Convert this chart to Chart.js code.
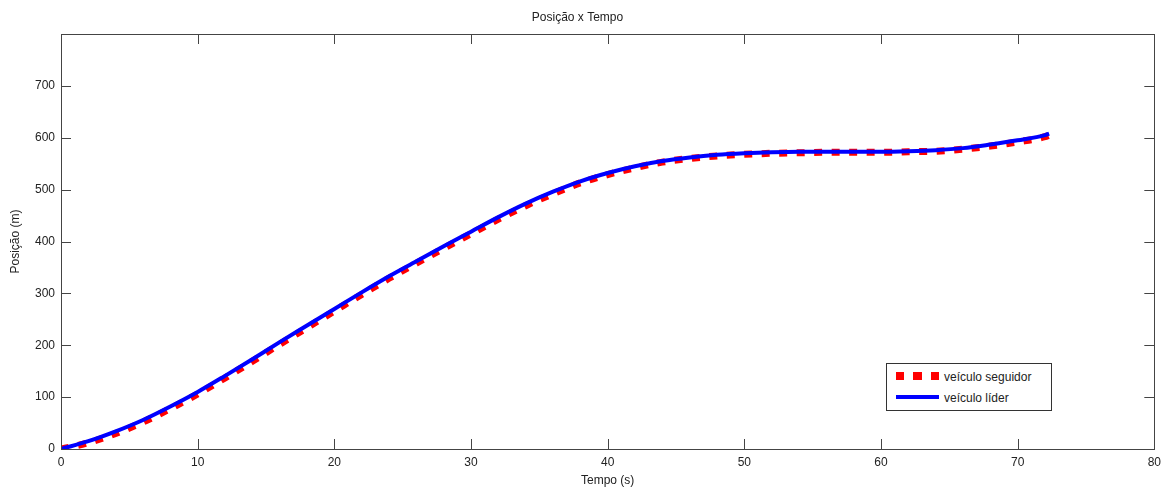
<!DOCTYPE html>
<html>
<head>
<meta charset="utf-8">
<title>Posição x Tempo</title>
<script src="https://cdn.jsdelivr.net/npm/chart.js@4/dist/chart.umd.min.js"></script>
<style>
  html, body { margin: 0; padding: 0; background: #fff; }
  #wrap { position: relative; width: 1167px; height: 490px; }
  #legend {
    position: absolute; left: 886px; top: 363px; width: 164px; height: 46px;
    border: 1px solid #333; background: #fff;
    font: 12px "Liberation Sans", Arial, sans-serif; color: #222;
  }
  #legend .sample { position: absolute; left: 9px; width: 43px; }
  #legend .red { top: 8px; height: 8px;
    background: repeating-linear-gradient(to right, #ff0000 0 8px, transparent 8px 17.5px); }
  #legend .blue { top: 31px; height: 4px; background: #0000ff; }
  #legend .label { position: absolute; left: 57px; line-height: 14px; }
</style>
</head>
<body>
<div id="wrap">
  <canvas id="chart" width="1167" height="490"></canvas>
  <div id="legend">
    <div class="sample red"></div><div class="label" style="top:6px">veículo seguidor</div>
    <div class="sample blue"></div><div class="label" style="top:27px">veículo líder</div>
  </div>
</div>
<script>
(function() {

    'use strict';

    // tempo (s)
    var tempo = [0, 2, 4, 6, 8, 10, 12, 14, 16, 18, 20, 22, 24, 26, 28, 30, 32, 34, 36,
                 38, 40, 42, 44, 46, 48, 50, 52, 54, 56, 58, 60, 62, 64, 66, 68, 70, 72, 72.3];

    // posição do veículo líder (m)
    var lider = [0, 15, 34, 56, 82, 110, 141, 173, 206, 238, 270, 302, 333, 362, 391, 419, 447, 473, 496,
                 516, 532, 545, 555, 562, 567, 570, 572, 573, 573, 573, 573, 574, 576, 580, 587, 595, 605, 608];

    // posição do veículo seguidor (m)
    var seguidor = [0, 12, 30, 52, 78, 106, 137, 169, 202, 234, 266, 298, 329, 358, 387, 415, 443, 469, 492,
                    513, 529, 542, 553, 560, 565, 568, 570, 571, 572, 572, 572, 573, 574, 578, 584, 592, 602, 605];

    var xTicks = [0, 10, 20, 30, 40, 50, 60, 70, 80];
    var yTicks = [0, 100, 200, 300, 400, 500, 600, 700, 800];

    var axisColor = '#444';
    var font = { family: '"Liberation Sans", Arial, sans-serif', size: 12 };

    function points(ys) {
        var out = [];
        for (var i = 0; i < tempo.length; i++) {
            out.push({ x: tempo[i], y: ys[i] });
        }
        return out;
    }

    // MATLAB style box with inward ticks
    var frame = {
        id: 'frame',
        afterDatasetsDraw: function(chart) {
            var ctx = chart.ctx,
                a = chart.chartArea,
                xs = chart.scales.x,
                ys = chart.scales.y,
                len = 10;

            ctx.save();
            ctx.strokeStyle = axisColor;
            ctx.lineWidth = 1;
            ctx.beginPath();
            xTicks.forEach(function(t) {
                var px = Math.round(xs.getPixelForValue(t)) + 0.5;
                ctx.moveTo(px, a.bottom); ctx.lineTo(px, a.bottom - len);
                ctx.moveTo(px, a.top); ctx.lineTo(px, a.top + len);
            });
            yTicks.forEach(function(t) {
                var py = Math.round(ys.getPixelForValue(t)) + 0.5;
                ctx.moveTo(a.left, py); ctx.lineTo(a.left + len, py);
                ctx.moveTo(a.right, py); ctx.lineTo(a.right - len, py);
            });
            ctx.stroke();
            ctx.strokeRect(Math.round(a.left) + 0.5, Math.round(a.top) + 0.5,
                Math.round(a.right - a.left), Math.round(a.bottom - a.top));
            ctx.restore();
        }
    };

    new Chart(document.getElementById('chart'), {
        type: 'line',
        data: {
            datasets: [{
                label: 'veículo seguidor',
                data: points(seguidor),
                borderColor: '#ff0000',
                borderWidth: 7,
                borderDash: [8, 9.5],
                pointRadius: 0,
                cubicInterpolationMode: 'monotone',
                fill: false,
                order: 2
            }, {
                label: 'veículo líder',
                data: points(lider),
                borderColor: '#0000ff',
                borderWidth: 4,
                pointRadius: 0,
                cubicInterpolationMode: 'monotone',
                fill: false,
                order: 1
            }]
        },
        options: {
            responsive: false,
            animation: false,
            layout: { padding: { left: 0, right: 12, top: 0, bottom: 0 } },
            plugins: {
                legend: { display: false },
                tooltip: { enabled: false },
                title: {
                    display: true,
                    text: 'Posição x Tempo',
                    color: '#222',
                    font: { family: font.family, size: 12, weight: 'normal' },
                    padding: { top: 10, bottom: 9.6 }
                }
            },
            scales: {
                x: {
                    type: 'linear',
                    min: 0,
                    max: 80,
                    afterBuildTicks: function(s) { s.ticks = xTicks.map(function(v) { return { value: v }; }); },
                    afterFit: function(s) { s.height = 41; },
                    grid: { display: false, drawTicks: false },
                    border: { display: false },
                    ticks: { color: '#222', font: font, padding: 6, maxRotation: 0 },
                    title: { display: true, text: 'Tempo (s)', color: '#222', font: font, padding: { bottom: 2 } }
                },
                y: {
                    min: 0,
                    max: 800,
                    afterBuildTicks: function(s) { s.ticks = yTicks.map(function(v) { return { value: v }; }); },
                    afterFit: function(s) { s.width = 61; },
                    grid: { display: false, drawTicks: false },
                    border: { display: false },
                    ticks: {
                        color: '#222', font: font, padding: 6,
                        callback: function(v) { return v === 800 ? '' : v; }
                    },
                    title: { display: true, text: 'Posição (m)', color: '#222', font: font, padding: { top: 8.5 } }
                }
            }
        },
        plugins: [frame]
    });
})();
</script>
</body>
</html>
